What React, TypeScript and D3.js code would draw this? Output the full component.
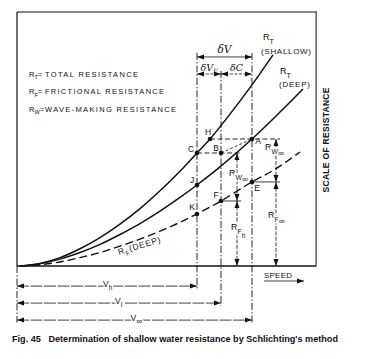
import React from "react";
import * as d3 from "d3";

// Speed (0-100) vs resistance (0-100)
const shallowSpeed = [1, 7.67, 14.33, 21, 27.67, 34.33, 41, 47.67, 54.33, 60, 64.33, 71, 78.33, 85.33];
const shallowRT = [0, 1.0, 3.3, 6.8, 11.2, 16.5, 22.6, 29.6, 37.3, 44.5, 50, 59.8, 71.3, 83.1];
const deepSpeed = [1, 7.67, 14.33, 21, 27.67, 34.33, 41, 47.67, 54.33, 60, 67.67, 78.33, 87.67, 95.33];
const deepRT = [0, 0.9, 2.7, 5.3, 8.5, 12.4, 16.7, 21.6, 27.0, 31.9, 39.0, 50, 60.6, 69.7];
const rfSpeed = [1, 7.67, 14.33, 21, 27.67, 34.33, 41, 47.67, 54.33, 60, 68, 78.33, 86.33, 94.33];
const deepRF = [0, 0.5, 1.6, 3.3, 5.3, 7.8, 10.6, 13.7, 17.2, 20.5, 25.6, 33.1, 38.3, 44.9];

const speedNames = ["h", "I", "∞"];
const speedValues = [60, 68, 78.33];

const pointNames = ["H", "C", "B", "A", "J", "F", "E", "K"];
const pointSpeeds = [64.33, 60, 68, 78.33, 60, 68, 78.33, 60];
const pointResist = [50, 44.5, 44.5, 50, 31.9, 25.6, 33.1, 20.5];

const legendSymbols = ["T", "F", "W"];
const legendTexts = ["TOTAL RESISTANCE", "FRICTIONAL RESISTANCE", "WAVE-MAKING RESISTANCE"];

const W = 370, H = 359;

export default function App() {
  const x = d3.scaleLinear().domain([0, 100]).range([17, 317]);
  const y = d3.scaleLinear().domain([0, 100]).range([266, 12]);
  const line = d3.line<[number, number]>().x(d => x(d[0])).y(d => y(d[1])).curve(d3.curveCatmullRom);
  const zip = (a: number[], b: number[]) => a.map((v, i) => [v, b[i]] as [number, number]);

  const sans = "'Liberation Sans', Arial, sans-serif";
  const ink = "#111";
  const dashDot = "7,2,1.5,2";
  const lab: Record<string, [number, number]> = {
    H: [-2, -4], C: [-6, -1], B: [-5, -2], A: [6, 5], J: [-5, -2], F: [-5, -3], E: [5, 9], K: [-5, -4],
  };
  const [sh, sI, sInf] = speedValues;
  const rA = pointResist[3], rC = pointResist[1], rE = pointResist[6], rF = pointResist[5];
  const bgText = { stroke: "#fff", strokeWidth: 3, paintOrder: "stroke" as const };

  return (
    <svg width={W} height={H} style={{ position: "absolute", left: 0, top: 0, background: "#fff" }}>
      <defs>
        <marker id="ar" viewBox="0 -3 7 6" refX={7} refY={0} markerWidth={7} markerHeight={6}
          markerUnits="userSpaceOnUse" orient="auto-start-reverse">
          <path d="M0,-2.5L7,0L0,2.5Z" fill={ink} />
        </marker>
      </defs>
      <rect width={W} height={H} fill="#fff" />
      {/* frame */}
      <line x1={x(0)} x2={x(0)} y1={y(100)} y2={y(0)} stroke={ink} strokeWidth={1.2} />
      <line x1={x(0)} x2={x(100)} y1={y(100)} y2={y(100)} stroke={ink} strokeWidth={1} />
      <line x1={x(99.7)} x2={x(99.7)} y1={y(100)} y2={y(0)} stroke={ink} strokeWidth={1} />
      <line x1={x(0)} x2={x(99.7)} y1={y(0)} y2={y(0)} stroke={ink} strokeWidth={1.3} />

      {/* vertical dash-dot speed lines */}
      <line x1={x(sh)} x2={x(sh)} y1={y(83.9)} y2={y(-9.2)} stroke={ink} strokeWidth={0.9} strokeDasharray={dashDot} />
      <line x1={x(sI)} x2={x(sI)} y1={y(76.8)} y2={y(-15.6)} stroke={ink} strokeWidth={0.9} strokeDasharray={dashDot} />
      <line x1={x(sInf)} x2={x(sInf)} y1={y(83.9)} y2={y(-22.3)} stroke={ink} strokeWidth={0.9} strokeDasharray={dashDot} />
      <line x1={x(0)} x2={x(0)} y1={y(0)} y2={y(-22.3)} stroke={ink} strokeWidth={0.9} strokeDasharray={dashDot} />

      {/* top delta arrows */}
      <line x1={x(sh)} x2={x(sInf)} y1={y(82.3)} y2={y(82.3)} stroke={ink} strokeWidth={0.8} markerStart="url(#ar)" markerEnd="url(#ar)" />
      <line x1={x(sh)} x2={x(sI)} y1={y(75.6)} y2={y(75.6)} stroke={ink} strokeWidth={0.8} strokeDasharray="3,1.5" markerStart="url(#ar)" markerEnd="url(#ar)" />
      <line x1={x(sI)} x2={x(sInf)} y1={y(75.6)} y2={y(75.6)} stroke={ink} strokeWidth={0.8} strokeDasharray="3,1.5" markerStart="url(#ar)" markerEnd="url(#ar)" />
      <text x={(x(sh) + x(sInf)) / 2} y={y(82.3) - 4} textAnchor="middle" fontFamily="'DejaVu Serif', serif" fontStyle="italic" fontSize={10.5} fill={ink}>δV</text>
      <text x={(x(sh) + x(sI)) / 2} y={y(75.6) - 3} textAnchor="middle" fontFamily="'DejaVu Serif', serif" fontStyle="italic" fontSize={9.5} fill={ink}>δV<tspan fontSize={6} dy={2}>F</tspan></text>
      <text x={(x(sI) + x(sInf)) / 2} y={y(75.6) - 3} textAnchor="middle" fontFamily="'DejaVu Serif', serif" fontStyle="italic" fontSize={9.5} fill={ink}>δC</text>

      {/* curves */}
      <path d={line(zip(shallowSpeed, shallowRT)) || ""} fill="none" stroke={ink} strokeWidth={1.5} />
      <path d={line(zip(deepSpeed, deepRT)) || ""} fill="none" stroke={ink} strokeWidth={1.5} />
      <path d={line(zip(rfSpeed, deepRF)) || ""} fill="none" stroke={ink} strokeWidth={1.4} strokeDasharray="8,4" />

      {/* construction lines */}
      <line x1={x(pointSpeeds[0])} x2={x(87.67)} y1={y(rA)} y2={y(rA)} stroke={ink} strokeWidth={0.9} strokeDasharray="5,2.5" />
      <line x1={x(sh)} x2={x(74.7)} y1={y(rC)} y2={y(rC)} stroke={ink} strokeWidth={0.9} strokeDasharray="5,2.5" />
      <line x1={x(sI)} x2={x(sInf)} y1={y(rC)} y2={y(rA)} stroke={ink} strokeWidth={0.8} strokeDasharray="3,2" />
      <line x1={x(sInf)} x2={x(87.67)} y1={y(rE)} y2={y(rE)} stroke={ink} strokeWidth={0.8} />
      <line x1={x(sI)} x2={x(74.7)} y1={y(rF)} y2={y(rF)} stroke={ink} strokeWidth={0.8} />

      {/* dimension arrows */}
      <line x1={x(73.33)} x2={x(73.33)} y1={y(rC)} y2={y(rF)} stroke={ink} strokeWidth={0.8} strokeDasharray="4,1.5" markerStart="url(#ar)" markerEnd="url(#ar)" />
      <line x1={x(73.33)} x2={x(73.33)} y1={y(rF)} y2={y(0)} stroke={ink} strokeWidth={0.8} strokeDasharray="4,1.5" markerStart="url(#ar)" markerEnd="url(#ar)" />
      <line x1={x(86.33)} x2={x(86.33)} y1={y(rA)} y2={y(rE)} stroke={ink} strokeWidth={0.8} strokeDasharray="4,1.5" markerStart="url(#ar)" markerEnd="url(#ar)" />
      <line x1={x(86.33)} x2={x(86.33)} y1={y(rE)} y2={y(0)} stroke={ink} strokeWidth={0.8} strokeDasharray="4,1.5" markerStart="url(#ar)" markerEnd="url(#ar)" />

      <g fontFamily={sans} fill={ink}>
        <text x={x(73.33) - 8} y={y(rC) + 23} fontSize={9} {...bgText}>R<tspan fontSize={7} dy={4}>W</tspan><tspan fontSize={8.5} dy={2}>∞</tspan></text>
        <text x={x(73.33) - 6} y={y(rF) + 29} fontSize={9} {...bgText}>R<tspan fontSize={7} dy={4}>F</tspan><tspan fontSize={6.5} dy={4}>h</tspan></text>
        <text x={x(86.33) - 11} y={y(rA) + 11} fontSize={9} {...bgText}>R<tspan fontSize={7} dy={4}>W</tspan><tspan fontSize={8.5} dy={2}>∞</tspan></text>
        <text x={x(86.33) - 8} y={y(rE) + 36} fontSize={9} {...bgText}>R<tspan fontSize={7} dy={4}>F</tspan><tspan fontSize={8.5} dy={2}>∞</tspan></text>
      </g>

      {/* points */}
      {pointNames.map((n, i) => (
        <g key={n}>
          <circle cx={x(pointSpeeds[i])} cy={y(pointResist[i])} r={2.3} fill={ink} />
          <text x={x(pointSpeeds[i]) + lab[n][0]} y={y(pointResist[i]) + lab[n][1]} textAnchor="middle"
            fontFamily={sans} fontSize={8.5} fill={ink}>{n}</text>
        </g>
      ))}

      {/* curve labels */}
      <g fontFamily={sans} fill={ink}>
        <text x={263} y={40} fontSize={9}>R<tspan fontSize={7} dy={4}>T</tspan></text>
        <text x={261} y={53.5} fontSize={8} textLength={50} lengthAdjust="spacing">(SHALLOW)</text>
        <text x={280} y={74} fontSize={9}>R<tspan fontSize={7} dy={4}>T</tspan></text>
        <text x={279} y={86.5} fontSize={8} textLength={31} lengthAdjust="spacing">(DEEP)</text>
        <text transform={`translate(${x(34)},${y(7.9) + 9}) rotate(-17)`} fontSize={8.5} textLength={44} lengthAdjust="spacing">R<tspan fontSize={6.5} dy={3}>F</tspan><tspan dy={-3}>(DEEP)</tspan></text>
      </g>

      {/* legend */}
      <g fontFamily={sans} fill={ink}>
        {legendSymbols.map((s, i) => (
          <text key={s} x={29} y={76.5 + i * 17.5} fontSize={7.5}>
            R<tspan fontSize={5.5} dy={2.5}>{s}</tspan><tspan dy={-2.5}>= </tspan>
          </text>
        ))}
        {legendTexts.map((t, i) => (
          <text key={t} x={45} y={76.5 + i * 17.5} fontSize={7.5} textLength={[93, 119, 131][i]} lengthAdjust="spacing">{t}</text>
        ))}
      </g>

      {/* axis titles */}
      <text transform="translate(329,140) rotate(-90)" textAnchor="middle" fontFamily={sans} fontWeight="bold" fontSize={8.5}
        textLength={105} lengthAdjust="spacing" fill={ink}>SCALE OF RESISTANCE</text>
      <text x={264} y={277.5} fontFamily={sans} fontSize={8} textLength={28} lengthAdjust="spacing" fill={ink}>SPEED</text>
      <line x1={264} x2={304} y1={281} y2={281} stroke={ink} strokeWidth={0.8} markerEnd="url(#ar)" />

      {/* bottom speed arrows */}
      {speedValues.map((v, i) => {
        const yy = y(-7.9 - i * 6.7);
        const cx = (x(0) + x(v)) / 2 - 4;
        return (
          <g key={speedNames[i]}>
            <line x1={x(0)} x2={x(v)} y1={yy} y2={yy} stroke={ink} strokeWidth={0.8} strokeDasharray="12,1.5" markerStart="url(#ar)" markerEnd="url(#ar)" />
            <text x={cx} y={yy + 1} fontFamily={sans} fontSize={8.5} fill={ink} {...bgText}>V<tspan fontSize={i === 2 ? 8.5 : 6.5} dy={3}>{speedNames[i]}</tspan></text>
          </g>
        );
      })}

      {/* caption */}
      <text x={12} y={342} fontFamily={sans} fontWeight="bold" fontSize={8.5} textLength={326} lengthAdjust="spacingAndGlyphs" fill={ink}>
        Fig. 45{"\u00a0\u00a0\u00a0"}Determination of shallow water resistance by Schlichting's method
      </text>
    </svg>
  );
}
